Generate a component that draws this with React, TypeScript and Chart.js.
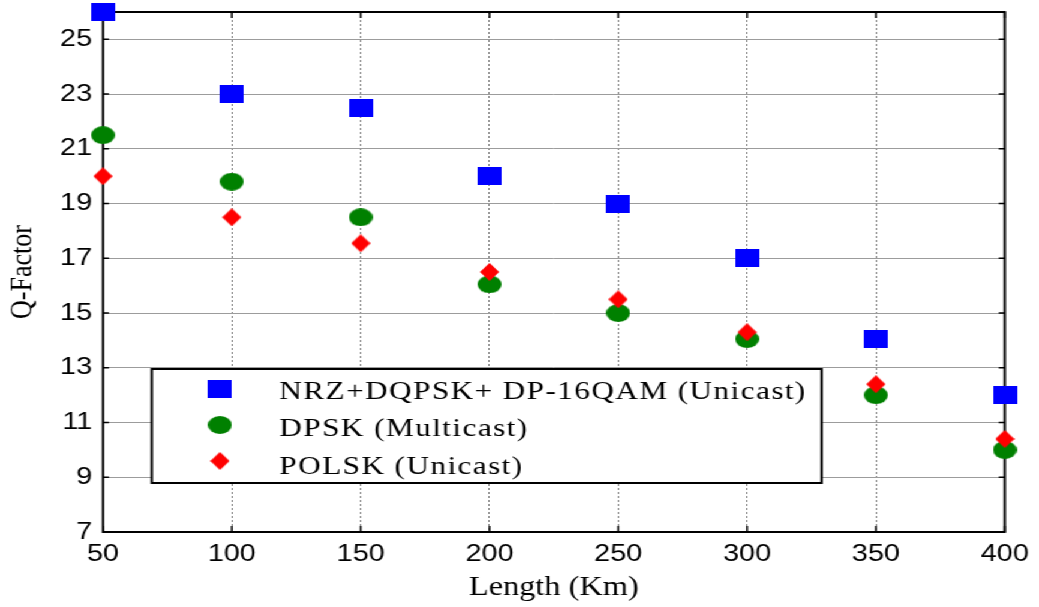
import React, { useEffect, useRef } from "react";
import { Chart, registerables } from "chart.js";

Chart.register(...registerables);

// ---- data ----
const LENGTH_KM = [50, 100, 150, 200, 250, 300, 350, 400];
const NRZ_DQPSK_DP16QAM = [26, 23, 22.5, 20, 19, 17, 14.05, 12];
const DPSK_MULTICAST = [21.5, 19.8, 18.5, 16.05, 15, 14.05, 12, 10];
const POLSK_UNICAST = [20, 18.5, 17.55, 16.5, 15.5, 14.3, 12.4, 10.4];
const X_TICKS = [50, 100, 150, 200, 250, 300, 350, 400];
const Y_TICKS = [7, 9, 11, 13, 15, 17, 19, 21, 23, 25];
const SERIES_NAMES = [
  "NRZ+DQPSK+ DP-16QAM (Unicast)",
  "DPSK (Multicast)",
  "POLSK (Unicast)",
];
const X_TITLE = "Length (Km)";
const Y_TITLE = "Q-Factor";

// ---- layout (canvas is drawn narrower and stretched horizontally) ----
const PAGE_W = 1039;
const CW = 866;
const H = 607;
const STRETCH = PAGE_W / CW;

const SANS = "'Liberation Sans', Arial, Helvetica, sans-serif";
const SERIF = "'Liberation Serif', 'Times New Roman', Times, serif";

function makeMarker(kind: string, w: number, h: number, color: string) {
  const c = document.createElement("canvas");
  c.width = w;
  c.height = h;
  const g = c.getContext("2d")!;
  g.fillStyle = color;
  g.beginPath();
  if (kind === "square") {
    g.rect(0, 0, w, h);
  } else if (kind === "ellipse") {
    g.ellipse(w / 2, h / 2, w / 2, h / 2, 0, 0, Math.PI * 2);
  } else {
    g.moveTo(w / 2, 0);
    g.lineTo(w, h / 2);
    g.lineTo(w / 2, h);
    g.lineTo(0, h / 2);
    g.closePath();
  }
  g.fill();
  return c;
}

export default function App() {
  const ref = useRef<HTMLCanvasElement>(null);

  useEffect(() => {
    const canvas = ref.current!;
    const square = makeMarker("square", 20, 18, "#0000ff");
    const ellipse = makeMarker("ellipse", 20, 18, "#008000");
    const diamond = makeMarker("diamond", 16, 18, "#ff0000");
    const markers = [square, ellipse, diamond];

    const toXY = (ys: number[]) => LENGTH_KM.map((x, i) => ({ x, y: ys[i] }));

    const framePlugin = {
      id: "frame",
      beforeDatasetsDraw(chart: any) {
        const { ctx, chartArea: a, scales } = chart;
        ctx.save();
        ctx.strokeStyle = "#000";
        ctx.lineWidth = 2;
        ctx.strokeRect(a.left, a.top, a.right - a.left, a.bottom - a.top);
        ctx.lineWidth = 1.5;
        ctx.beginPath();
        for (const v of Y_TICKS) {
          const y = scales.y.getPixelForValue(v);
          ctx.moveTo(a.left, y);
          ctx.lineTo(a.left + 5, y);
          ctx.moveTo(a.right, y);
          ctx.lineTo(a.right - 5, y);
        }
        for (const v of X_TICKS) {
          const x = scales.x.getPixelForValue(v);
          ctx.moveTo(x, a.bottom);
          ctx.lineTo(x, a.bottom - 6);
          ctx.moveTo(x, a.top);
          ctx.lineTo(x, a.top + 6);
        }
        ctx.stroke();
        ctx.restore();
      },
      afterDatasetsDraw(chart: any) {
        const { ctx } = chart;
        const left = 126.5;
        const right = 684.8;
        const top = 369;
        const bottom = 483;
        ctx.save();
        ctx.fillStyle = "#fff";
        ctx.fillRect(left, top, right - left, bottom - top);
        ctx.strokeStyle = "#000";
        ctx.lineWidth = 2;
        ctx.strokeRect(left, top, right - left, bottom - top);
        const markerX = 183.3;
        const textX = 232.8;
        const rowY = [389, 425, 461];
        ctx.font = `26px ${SERIF}`;
        (ctx as any).letterSpacing = "1.2px";
        ctx.fillStyle = "#000";
        ctx.textBaseline = "middle";
        ctx.textAlign = "left";
        SERIES_NAMES.forEach((name, i) => {
          const m = markers[i];
          ctx.drawImage(m, markerX - m.width / 2, rowY[i] - m.height / 2);
          ctx.fillText(name, textX, rowY[i] + 3 + i * 1.5);
        });
        (ctx as any).letterSpacing = "0px";
        ctx.restore();
      },
    };

    const chart = new Chart(canvas, {
      type: "scatter",
      data: {
        datasets: [
          {
            label: SERIES_NAMES[0],
            data: toXY(NRZ_DQPSK_DP16QAM),
            pointStyle: square as any,
            pointRadius: 10,
            showLine: false,
            clip: false as any,
            order: 2,
          },
          {
            label: SERIES_NAMES[1],
            data: toXY(DPSK_MULTICAST),
            pointStyle: ellipse as any,
            pointRadius: 10,
            showLine: false,
            clip: false as any,
            order: 1,
          },
          {
            label: SERIES_NAMES[2],
            data: toXY(POLSK_UNICAST),
            pointStyle: diamond as any,
            pointRadius: 10,
            showLine: false,
            clip: false as any,
            order: 0,
          },
        ],
      },
      options: {
        responsive: false,
        animation: false,
        events: [],
        layout: { padding: { top: 12, right: 28.5, left: 0, bottom: 0 } },
        plugins: {
          legend: { display: false },
          tooltip: { enabled: false },
          title: { display: false },
        },
        scales: {
          x: {
            type: "linear",
            min: 50,
            max: 400,
            afterBuildTicks: (s: any) => {
              s.ticks = X_TICKS.map((v) => ({ value: v }));
            },
            afterFit: (s: any) => {
              s.height = 75;
              s.paddingLeft = 0;
              s.paddingRight = 0;
            },
            grid: {
              color: "#7a7a7a",
              lineWidth: 1,
              drawTicks: false,
            },
            border: { display: false, dash: [2, 2] },
            ticks: {
              padding: 8,
              color: "#000",
              font: { family: SANS, size: 24 },
              maxRotation: 0,
              autoSkip: false,
            },
            title: {
              display: true,
              text: X_TITLE,
              color: "#000",
              font: { family: SERIF, size: 27, weight: "normal" as any },
              padding: { top: 0, bottom: 3 },
            },
          },
          y: {
            type: "linear",
            min: 7,
            max: 26,
            afterBuildTicks: (s: any) => {
              s.ticks = Y_TICKS.map((v) => ({ value: v }));
            },
            afterFit: (s: any) => {
              s.width = 85.8;
              s.paddingTop = 0;
              s.paddingBottom = 0;
            },
            grid: {
              color: "#9c9c9c",
              lineWidth: 1,
              drawTicks: false,
            },
            border: { display: false },
            ticks: {
              padding: 9,
              color: "#000",
              font: { family: SANS, size: 24 },
              autoSkip: false,
            },
            title: {
              display: true,
              text: Y_TITLE,
              color: "#000",
              font: { family: SERIF, size: 26, weight: "normal" as any },
              padding: { top: 4, bottom: 0 },
            },
          },
        },
      },
      plugins: [framePlugin],
    });

    return () => chart.destroy();
  }, []);

  return (
    <div
      style={{
        position: "absolute",
        left: 0,
        top: 0,
        width: CW,
        height: H,
        background: "#fff",
        transform: `scaleX(${STRETCH})`,
        transformOrigin: "0 0",
      }}
    >
      <canvas
        ref={ref}
        width={CW}
        height={H}
        style={{ display: "block", width: CW, height: H }}
      />
    </div>
  );
}
